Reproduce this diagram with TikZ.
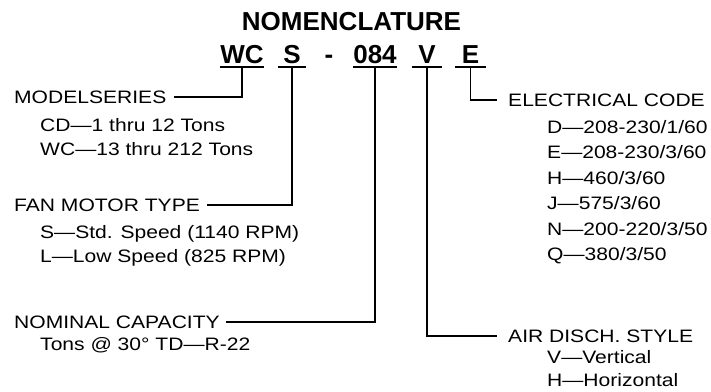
\documentclass[tikz,border=0pt]{standalone}
\usepackage{fontspec}
\setmainfont{Liberation Sans}
\newfontfamily\bodyfont[FakeStretch=1.17]{Liberation Sans}

\begin{document}
\begin{tikzpicture}[x=1pt, y=-1pt,
  codebox/.style={font=\fontsize{26}{26}\selectfont\bfseries, inner sep=0pt, text height=19pt, text depth=3.7pt, anchor=base},
  head/.style={font=\bodyfont\fontsize{18}{24}\selectfont, inner sep=0pt, text height=12.8pt, text depth=0pt, anchor=base west},
  list/.style={font=\bodyfont\fontsize{18}{#1}\selectfont, inner sep=0pt, align=left, anchor=base west},
  uline/.style={line width=1.8pt},
  lead/.style={line width=1.8pt}]
  \useasboundingbox (0,0) rectangle (711,391);

  % Title
  \node[font=\fontsize{26}{26}\selectfont\bfseries, inner sep=0pt, anchor=base] (title) at (351.5, 30.7) {NOMENCLATURE};

  % Code letters
  \node[codebox, minimum width=40pt] (wc) at (242, 63.3) {WC};
  \node[codebox, minimum width=28pt] (fan) at (292, 63.3) {S};
  \node[codebox] (dash) at (329, 63.3) {-};
  \node[codebox, minimum width=44pt] (cap) at (375, 63.3) {084};
  \node[codebox, minimum width=30pt] (air) at (427, 63.3) {V};
  \node[codebox, minimum width=31pt] (elec) at (470.5, 63.3) {E};

  % Underlines
  \draw[uline] (wc.south west) -- (wc.south east);
  \draw[uline] (fan.south west) -- (fan.south east);
  \draw[uline] (cap.south west) -- (cap.south east);
  \draw[uline] (air.south west) -- (air.south east);
  \draw[uline] (elec.south west) -- (elec.south east);

  % Left side (lists are placed by their last line)
  \node[head] (model) at (14, 103.5) {MODELSERIES};
  \node[list=24] (modellist) at (40, 155) {CD—1 thru 12 Tons\\WC—13 thru 212 Tons};

  \node[head] (motor) at (14, 211) {FAN MOTOR TYPE};
  \node[list=24] (motorlist) at (40, 262) {S—Std. Speed (1140 RPM)\\L—Low Speed (825 RPM)};

  \node[head] (nominal) at (14, 328) {NOMINAL CAPACITY};
  \node[list=24] (nominallist) at (40, 350) {Tons @ 30° TD—R-22};

  % Right side
  \node[head] (elechead) at (508, 106) {ELECTRICAL CODE};
  \node[list=25.5] (eleclist) at (547, 260.5) {D—208-230/1/60\\E—208-230/3/60\\H—460/3/60\\J—575/3/60\\N—200-220/3/50\\Q—380/3/50};

  \node[head] (airhead) at (508, 342) {AIR DISCH. STYLE};
  \node[list=23] (airlist) at (547, 386) {V—Vertical\\H—Horizontal};

  % Leaders
  \draw[lead, shorten >=7pt] (wc.south) |- (model.east);
  \draw[lead, shorten >=7pt] (fan.south) |- (motor.east);
  \draw[lead, shorten >=6pt] (cap.south) |- (nominal.east);
  \draw[lead, shorten >=11pt] (air.south) |- (airhead.west);
  \draw[lead, shorten >=11pt] (elec.south) |- (elechead.west);
\end{tikzpicture}
\end{document}
